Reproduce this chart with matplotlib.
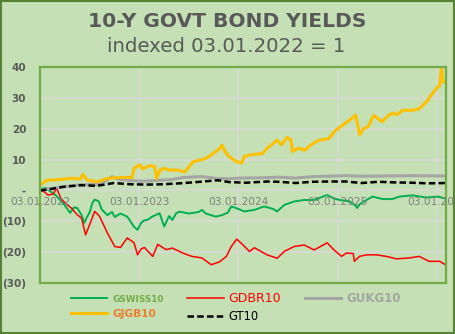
import pandas as pd
import matplotlib.pyplot as plt
from matplotlib.patches import Rectangle

# valores (indice 03.01.2022 = 1)
swiss_dates = ["2022-01-03", "2022-01-25", "2022-02-05", "2022-03-01", "2022-04-01", "2022-04-24",
               "2022-05-08", "2022-05-20", "2022-06-05", "2022-06-15", "2022-06-25", "2022-07-05",
               "2022-07-15", "2022-07-23", "2022-08-07", "2022-08-18", "2022-09-08", "2022-09-25",
               "2022-10-05", "2022-10-26", "2022-11-20", "2022-12-15", "2022-12-28", "2023-01-10",
               "2023-01-22", "2023-02-01", "2023-02-20", "2023-03-19", "2023-04-05", "2023-04-23",
               "2023-05-05", "2023-05-19", "2023-06-01", "2023-07-05", "2023-08-10", "2023-08-22",
               "2023-09-05", "2023-10-12", "2023-11-04", "2023-11-25", "2023-12-08", "2023-12-28",
               "2024-01-25", "2024-03-02", "2024-04-07", "2024-05-10", "2024-05-25", "2024-06-20",
               "2024-07-26", "2024-09-01", "2024-10-08", "2024-11-25", "2024-12-20", "2025-01-10",
               "2025-02-15", "2025-03-10", "2025-03-16", "2025-03-24", "2025-04-19", "2025-05-11",
               "2025-06-17", "2025-07-23", "2025-08-18", "2025-10-05", "2025-11-25", "2026-01-06",
               "2026-02-03"]
swiss_vals = [0.5, 0.8, 0, -1.5, -4.5, -7.3, -5.5, -5.7, -8, -10.5, -8.6, -7, -4, -3, -3.5, -6.2,
              -8, -7, -8.6, -7.5, -8.5, -11.8, -12.8, -10.5, -9.7, -9.6, -8.5, -7.4, -11.7, -8.3,
              -9.6, -7.4, -6.9, -7.5, -7.0, -6.3, -7.5, -8.5, -8.0, -7.2, -5.2, -5.8, -6.8, -6.3,
              -5.2, -6.0, -6.8, -4.7, -3.6, -3.1, -3.1, -1.5, -2.6, -3.1, -3.5, -5.0, -5.7, -4.5,
              -3.1, -2.0, -2.8, -2.8, -2.0, -1.6, -2.3, -2.0, -2.6]

dbr_dates = ["2022-01-03", "2022-01-20", "2022-02-01", "2022-02-20", "2022-03-05", "2022-03-20",
             "2022-04-10", "2022-04-28", "2022-05-20", "2022-06-05", "2022-06-15", "2022-06-20",
             "2022-07-05", "2022-07-23", "2022-08-10", "2022-09-08", "2022-10-05", "2022-10-26",
             "2022-11-20", "2022-12-15", "2022-12-28", "2023-01-10", "2023-01-22", "2023-02-22",
             "2023-03-12", "2023-04-12", "2023-05-05", "2023-06-12", "2023-07-16", "2023-08-22",
             "2023-09-25", "2023-10-25", "2023-11-20", "2023-12-08", "2023-12-28", "2024-01-18",
             "2024-02-13", "2024-03-02", "2024-04-18", "2024-05-25", "2024-06-20", "2024-07-26",
             "2024-09-01", "2024-10-08", "2024-11-25", "2024-12-20", "2025-01-17", "2025-02-04",
             "2025-03-01", "2025-03-05", "2025-03-24", "2025-04-19", "2025-05-25", "2025-07-01",
             "2025-08-07", "2025-09-24", "2025-10-30", "2025-12-05", "2026-01-13", "2026-02-03"]
dbr_vals = [0, -0.5, -1.5, -1.2, 0.8, -2.5, -4.5, -5.7, -7.9, -9, -12.8, -14.4, -11, -6.8, -8.4,
            -13.8, -18.2, -18.5, -15.4, -17.0, -20.9, -19.0, -18.5, -21.4, -17.5, -19.2, -18.7,
            -20.3, -21.4, -21.9, -24.1, -23.2, -21.4, -18.2, -15.8, -17.5, -19.8, -18.6, -20.9,
            -22.0, -19.8, -18.2, -17.7, -19.3, -17.0, -19.3, -21.4, -20.3, -20.5, -23.0, -21.4,
            -20.9, -20.9, -21.4, -22.2, -21.9, -21.4, -23.0, -23.0, -24.1]

ukg_dates = ["2022-01-03", "2022-02-01", "2022-04-01", "2022-06-01", "2022-08-01", "2022-09-01",
             "2022-09-25", "2022-10-15", "2022-12-01", "2023-01-10", "2023-03-01", "2023-05-01",
             "2023-06-15", "2023-08-20", "2023-10-15", "2023-12-01", "2024-01-10", "2024-04-01",
             "2024-06-01", "2024-08-01", "2024-10-01", "2024-12-01", "2025-02-01", "2025-04-01",
             "2025-07-01", "2025-10-01", "2026-02-03"]
ukg_vals = [0, 0.5, 1.2, 1.8, 2.0, 3.0, 4.5, 3.7, 3.2, 3.0, 3.2, 3.5, 4.2, 4.5, 3.9, 3.8, 4.0,
            4.1, 4.3, 4.0, 4.5, 4.6, 4.8, 4.6, 4.7, 4.8, 4.7]

jgb_dates = ["2022-01-03", "2022-01-20", "2022-02-01", "2022-03-01", "2022-04-24", "2022-06-01",
             "2022-06-10", "2022-06-25", "2022-08-01", "2022-09-08", "2022-10-26", "2022-12-08",
             "2022-12-15", "2023-01-05", "2023-01-15", "2023-02-10", "2023-03-01", "2023-03-08",
             "2023-03-20", "2023-04-05", "2023-04-23", "2023-05-25", "2023-06-20", "2023-07-20",
             "2023-08-20", "2023-09-05", "2023-09-25", "2023-10-25", "2023-11-04", "2023-11-15",
             "2023-12-01", "2023-12-28", "2024-01-15", "2024-01-25", "2024-02-13", "2024-04-01",
             "2024-04-18", "2024-05-25", "2024-06-10", "2024-07-01", "2024-07-15", "2024-07-20",
             "2024-08-10", "2024-09-05", "2024-09-25", "2024-10-25", "2024-12-01", "2024-12-25",
             "2025-02-15", "2025-03-10", "2025-03-25", "2025-04-08", "2025-04-25", "2025-05-15",
             "2025-06-15", "2025-07-10", "2025-07-23", "2025-08-10", "2025-08-30", "2025-10-05",
             "2025-10-30", "2025-11-25", "2025-12-17", "2026-01-06", "2026-01-13", "2026-01-20",
             "2026-01-24", "2026-02-03"]
jgb_vals = [1.8, 2.8, 3.4, 3.4, 3.9, 3.8, 5.2, 3.4, 2.8, 3.9, 4.2, 4.2, 7.2, 8.3, 7.0, 8.0, 7.8,
            3.9, 6.5, 7.2, 6.6, 6.6, 6.0, 9.3, 10.0, 10.4, 11.5, 13.5, 14.7, 12.6, 10.9, 9.3, 8.9,
            11.0, 11.5, 12.0, 13.7, 16.3, 14.8, 17.2, 16.3, 12.6, 13.7, 13.1, 14.7, 16.3, 16.8,
            19.4, 22.8, 24.4, 18.0, 20.1, 20.7, 24.4, 22.3, 24.4, 25.0, 24.6, 26.0, 26.0, 26.5,
            28.7, 31.4, 33.6, 34.0, 40.0, 35.4, 35.0]

t10_dates = ["2022-01-03", "2022-02-01", "2022-04-01", "2022-06-01", "2022-08-01", "2022-10-01",
             "2022-12-01", "2023-02-01", "2023-04-01", "2023-06-01", "2023-08-01", "2023-10-20",
             "2023-12-01", "2024-02-01", "2024-04-20", "2024-06-01", "2024-08-01", "2024-10-01",
             "2024-12-01", "2025-02-01", "2025-04-01", "2025-06-01", "2025-08-01", "2025-10-01",
             "2025-12-01", "2026-02-03"]
t10_vals = [0, 0.3, 1.2, 1.7, 1.5, 2.4, 2.0, 1.9, 2.0, 2.3, 2.7, 3.3, 2.7, 2.5, 2.9, 2.8, 2.4,
            2.8, 2.9, 2.9, 2.4, 2.8, 2.6, 2.5, 2.3, 2.4]

tick_dates = ["2022-01-03", "2023-01-03", "2024-01-03", "2025-01-03", "2026-01-03"]
tick_labels = ["03.01.2022", "03.01.2023", "03.01.2024", "03.01.2025", "03.01.2026"]
y_ticks = [-30, -20, -10, 0, 10, 20, 30, 40]
y_labels = ["(30)", "(20)", "(10)", "-", "10", "20", "30", "40"]

bg = "#C5E0B4"
fig = plt.figure(figsize=(4.55, 3.34), dpi=100)
fig.patch.set_facecolor(bg)
ax = fig.add_axes([0.088, 0.153, 0.892, 0.646])
ax.set_facecolor(bg)

#series
l_swiss, = ax.plot(pd.to_datetime(swiss_dates), swiss_vals, color="#00B050", lw=1.4, label="GSWISS10")
l_dbr, = ax.plot(pd.to_datetime(dbr_dates), dbr_vals, color="#FF0000", lw=1.1, label="GDBR10")
l_ukg, = ax.plot(pd.to_datetime(ukg_dates), ukg_vals, color="#A5A5A5", lw=2.2, label="GUKG10")
l_jgb, = ax.plot(pd.to_datetime(jgb_dates), jgb_vals, color="#FFC000", lw=2.2, label="GJGB10")
l_t10, = ax.plot(pd.to_datetime(t10_dates), t10_vals, color="black", lw=1.8,
                 linestyle=(0, (2.6, 1.3)), label="GT10")

ax.set_ylim(-30, 40)
ax.set_xlim(pd.Timestamp("2022-01-03"), pd.Timestamp("2026-02-05"))
ax.set_yticks(y_ticks)
ax.set_yticklabels(y_labels, fontsize=7.5, fontweight="bold", color="#595959")
ax.set_xticks(pd.to_datetime(tick_dates))
ax.set_xticklabels([])
ax.tick_params(length=0)
ax.tick_params(axis="y", pad=10)
ax.grid(color="#D9D9D9", lw=1.1)
ax.set_axisbelow(True)
for s in ax.spines.values():
    s.set_color("#70AD47")
    s.set_linewidth(1.6)

# rotulos de data no eixo zero
for d, t in zip(pd.to_datetime(tick_dates), tick_labels):
    ax.annotate(t, (d, 0), xytext=(0, -5), textcoords="offset points", ha="center", va="top",
                fontsize=7.6, color="#7F7F7F", annotation_clip=False, zorder=10)

fig.text(0.5, 0.935, "10-Y GOVT BOND YIELDS", ha="center", va="center", fontsize=14.6,
         fontweight="bold", color="#595959")
fig.text(0.498, 0.862, "indexed 03.01.2022 = 1", ha="center", va="center", fontsize=14.2,
         color="#595959")

leg = fig.legend(handles=[l_swiss, l_jgb, l_dbr, l_t10, l_ukg], ncol=3, frameon=False,
                 loc="upper left", bbox_to_anchor=(0.133, 0.156), handlelength=3.3,
                 handletextpad=0.45, columnspacing=2.1, labelspacing=0.45, fontsize=8)
styles = {"GSWISS10": ("#70AD47", 6.4, "bold"), "GJGB10": ("#ED7D31", 7.6, "bold"),
          "GDBR10": ("#FF0000", 9, "normal"), "GT10": ("black", 8.3, "normal"),
          "GUKG10": ("#A5A5A5", 8.5, "bold")}
for txt in leg.get_texts():
    c, fs, fw = styles[txt.get_text()]
    txt.set_color(c)
    txt.set_fontsize(fs)
    txt.set_fontweight(fw)

fig.patches.append(Rectangle((0.002, 0.003), 0.995, 0.994, transform=fig.transFigure,
                             fill=False, edgecolor="#548235", lw=1.5))

plt.savefig("out.png", dpi=100, facecolor=bg)
